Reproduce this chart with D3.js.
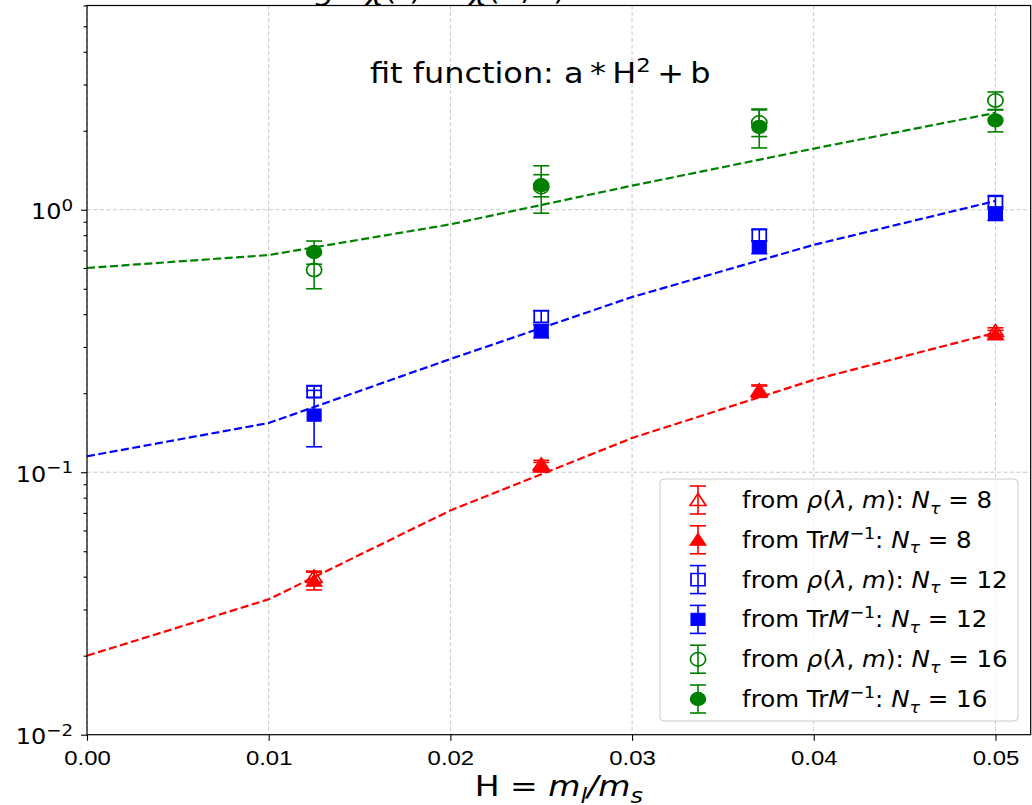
<!DOCTYPE html>
<html>
<head>
<meta charset="utf-8">
<script src="https://cdn.jsdelivr.net/npm/d3@7"></script>
<style>
  body { margin: 0; background: #fff; }
  svg { font-family: "DejaVu Sans", sans-serif; }
  .grid line { stroke: #c8c8c8; stroke-width: 1; stroke-dasharray: 4,2.5; }
  .axis path, .axis line { stroke: #000; stroke-width: 1.1; }
  .axis text { font-size: 21px; fill: #000; }
</style>
</head>
<body>
<svg id="chart" width="1032" height="805"></svg>
<script>
"use strict";

// x positions of the measurements (H = m_l/m_s)
var hValues = [0.0125, 0.025, 0.037, 0.05];
var xTicks = [0, 0.01, 0.02, 0.03, 0.04, 0.05];
var yTicks = [0.01, 0.1, 1];

// N_tau = 8
var rho8 = [0.040, 0.107, 0.205, 0.345];
var rho8Err = [0.002, 0.004, 0.010, 0.010];
var tr8 = [0.0386, 0.105, 0.203, 0.335];
var tr8Err = [0.003, 0.004, 0.010, 0.012];
// N_tau = 12
var rho12 = [0.203, 0.392, 0.80, 1.075];
var rho12Err = [0.010, 0.020, 0.040, 0.050];
var tr12 = [0.165, 0.345, 0.72, 0.96];
var tr12Err = [0.040, 0.020, 0.040, 0.050];
// N_tau = 16
var rho16 = [0.59, 1.22, 2.15, 2.61];
var rho16Err = [0.09, 0.25, 0.25, 0.20];
var tr16 = [0.69, 1.24, 2.07, 2.19];
var tr16Err = [0.07, 0.12, 0.35, 0.21];

var fitH = [0, 0.01, 0.02, 0.03, 0.04, 0.05];
var fit8 = [0.020, 0.0328, 0.0715, 0.135, 0.225, 0.340];
var fit12 = [0.115, 0.154, 0.270, 0.465, 0.735, 1.080];
var fit16 = [0.600, 0.672, 0.880, 1.235, 1.710, 2.340];

var RED = '#ff0000', BLUE = '#0000ff', GREEN = '#008000';
// the figure is a little wider than tall in its glyphs
var SX = 1.14;

var series = [
	{ key: 'rho', nt: '8', color: RED, shape: d3.symbolTriangle, size: 85, filled: false, y: rho8, err: rho8Err },
	{ key: 'tr', nt: '8', color: RED, shape: d3.symbolTriangle, size: 85, filled: true, y: tr8, err: tr8Err },
	{ key: 'rho', nt: '12', color: BLUE, shape: d3.symbolSquare, size: 150, filled: false, y: rho12, err: rho12Err },
	{ key: 'tr', nt: '12', color: BLUE, shape: d3.symbolSquare, size: 150, filled: true, y: tr12, err: tr12Err },
	{ key: 'rho', nt: '16', color: GREEN, shape: d3.symbolCircle, size: 140, filled: false, y: rho16, err: rho16Err },
	{ key: 'tr', nt: '16', color: GREEN, shape: d3.symbolCircle, size: 140, filled: true, y: tr16, err: tr16Err }
];
var fits = [
	{ color: RED, y: fit8 },
	{ color: BLUE, y: fit12 },
	{ color: GREEN, y: fit16 }
];

var svg = d3.select('#chart');
var plot = { left: 87, right: 1030.7, top: 5.5, bottom: 734.7 };

var x = d3.scaleLinear().domain([0, 0.05194]).range([plot.left, plot.right]);
var y = d3.scaleLog().domain([0.01, 6.0]).range([plot.bottom, plot.top]);

// write a small piece of mathtext as tspans
function mathText(textSel, parts) {
	var shift = 0;
	parts.forEach(function(p) {
		var target = p.pos === 'sub' ? 0.25 : (p.pos === 'sup' ? -0.4 : 0);
		var base = parseFloat(textSel.style('font-size'));
		var ts = textSel.append('tspan')
			.attr('dy', (target - shift) * base)
			.text(p.t);
		if (p.i) ts.style('font-style', 'italic');
		if (p.fs) ts.style('font-size', p.fs + 'px');
		shift = target;
	});
}

function addText(parent, px, py, size, anchor, sx) {
	return parent.append('text')
		.attr('transform', 'translate(' + px + ',' + py + ') scale(' + (sx || SX) + ',1)')
		.attr('text-anchor', anchor || 'start')
		.style('font-size', size + 'px');
}

// grid
var grid = svg.append('g').attr('class', 'grid');
grid.selectAll('.gx').data(xTicks).enter().append('line')
	.attr('x1', function(d) { return x(d); })
	.attr('x2', function(d) { return x(d); })
	.attr('y1', plot.top).attr('y2', plot.bottom);
grid.selectAll('.gy').data(yTicks.slice(1)).enter().append('line')
	.attr('x1', plot.left).attr('x2', plot.right)
	.attr('y1', function(d) { return y(d); })
	.attr('y2', function(d) { return y(d); });

// title, mostly above the visible frame
addText(svg, 440, 0, 28, 'middle')
	.call(mathText, [
		{ t: 'g', i: true }, { t: ' \u00b7 ' }, { t: '\u03c7', i: true }, { t: '(' },
		{ t: 't', i: true }, { t: ')  \u2212  ' }, { t: '\u03c7', i: true }, { t: '(0, ' }, { t: 't', i: true }, { t: ')' }
	]);

// fit lines
var line = d3.line()
	.x(function(d) { return x(d[0]); })
	.y(function(d) { return y(d[1]); });
svg.append('g').selectAll('path').data(fits).enter().append('path')
	.attr('d', function(f) { return line(d3.zip(fitH, f.y)); })
	.attr('fill', 'none')
	.attr('stroke', function(f) { return f.color; })
	.attr('stroke-width', 2.2)
	.attr('stroke-dasharray', '8,3.5');

// error bars + markers
var CAP = 8;
function drawErrMarker(g, s, px, yTop, yBot, yMid) {
	g.append('line').attr('x1', px).attr('x2', px).attr('y1', yTop).attr('y2', yBot)
		.attr('stroke', s.color).attr('stroke-width', 1.6);
	[yTop, yBot].forEach(function(cy) {
		g.append('line').attr('x1', px - CAP).attr('x2', px + CAP).attr('y1', cy).attr('y2', cy)
			.attr('stroke', s.color).attr('stroke-width', 1.6);
	});
	var dy = s.shape === d3.symbolTriangle ? 1.5 : 0;
	g.append('path')
		.attr('d', d3.symbol().type(s.shape).size(s.size)())
		.attr('transform', 'translate(' + px + ',' + (yMid + dy) + ') scale(' + SX + ',1)')
		.attr('fill', s.filled ? s.color : 'none')
		.attr('stroke', s.color)
		.attr('stroke-width', s.filled ? 1 : 1.5);
}

var pts = svg.append('g');
series.forEach(function(s) {
	var g = pts.append('g');
	hValues.forEach(function(h, i) {
		drawErrMarker(g, s, x(h), y(s.y[i] + s.err[i]), y(s.y[i] - s.err[i]), y(s.y[i]));
	});
});

// frame
svg.append('rect')
	.attr('x', plot.left).attr('y', plot.top)
	.attr('width', plot.right - plot.left).attr('height', plot.bottom - plot.top)
	.attr('fill', 'none').attr('stroke', '#000').attr('stroke-width', 1.2);

// x axis
var xAxisG = svg.append('g').attr('class', 'axis')
	.attr('transform', 'translate(0,' + plot.bottom + ')')
	.call(d3.axisBottom(x).tickValues(xTicks).tickSize(6).tickPadding(9)
		.tickFormat(d3.format('.2f')));
xAxisG.select('.domain').remove();
xAxisG.selectAll('text').attr('transform', 'scale(' + SX + ',1)');

// y axis: major and minor ticks
var minor = [];
[0.01, 0.1, 1].forEach(function(dec) {
	for (var k = 2; k <= 9; k++) {
		if (dec * k <= 6.0) minor.push(dec * k);
	}
});
var yAxisG = svg.append('g').attr('class', 'axis')
	.attr('transform', 'translate(' + plot.left + ',0)')
	.call(d3.axisLeft(y).tickValues(yTicks).tickSize(6).tickFormat(''));
yAxisG.select('.domain').remove();
var yMinorG = svg.append('g').attr('class', 'axis')
	.attr('transform', 'translate(' + plot.left + ',0)')
	.call(d3.axisLeft(y).tickValues(minor).tickSize(3.5).tickFormat(''));
yMinorG.select('.domain').remove();

var exps = { 0.01: '\u22122', 0.1: '\u22121', 1: '0' };
yTicks.forEach(function(v) {
	addText(svg, 73, y(v) + 9.5, 21, 'end')
		.call(mathText, [{ t: '10' }, { t: exps[v], pos: 'sup', fs: 16 }]);
});

// axis label
addText(svg, (plot.left + plot.right) / 2, 796, 29, 'middle')
	.call(mathText, [
		{ t: 'H = ' }, { t: 'm', i: true }, { t: 'l', i: true, pos: 'sub', fs: 21 },
		{ t: '/m', i: true }, { t: 's', i: true, pos: 'sub', fs: 21 }
	]);

// annotation
addText(svg, 370, 83, 28, 'start')
	.call(mathText, [
		{ t: 'fit function: a\u2009*\u2009H' }, { t: '2', pos: 'sup', fs: 20 }, { t: '\u2009+\u2009b' }
	]);

// legend
var leg = svg.append('g');
leg.append('rect')
	.attr('x', 660).attr('y', 479)
	.attr('width', 358).attr('height', 242)
	.attr('rx', 4)
	.attr('fill', 'rgba(255,255,255,0.8)')
	.attr('stroke', '#cccccc').attr('stroke-width', 1);
series.forEach(function(s, i) {
	var cy = 500 + i * 39.8;
	var g = leg.append('g');
	drawErrMarker(g, s, 698, cy - 14, cy + 14, cy);
	var parts;
	if (s.key === 'rho') {
		parts = [{ t: 'from ' }, { t: '\u03c1', i: true }, { t: '(' }, { t: '\u03bb', i: true },
			{ t: ', ' }, { t: 'm', i: true }, { t: '): ' }];
	} else {
		parts = [{ t: 'from Tr' }, { t: 'M', i: true }, { t: '\u22121', pos: 'sup', fs: 16 }, { t: ': ' }];
	}
	parts = parts.concat([{ t: 'N', i: true }, { t: '\u03c4', i: true, pos: 'sub', fs: 16 },
		{ t: ' = ' + s.nt }]);
	addText(leg, 742, cy + 8, 22.5, 'start', 1.09).call(mathText, parts);
});
</script>
</body>
</html>
